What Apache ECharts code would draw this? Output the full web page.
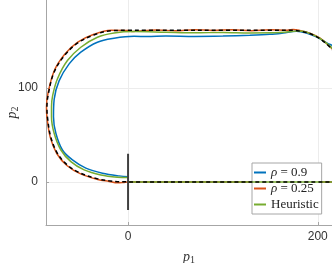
<!DOCTYPE html>
<html>
<head>
<meta charset="utf-8">
<script src="https://cdn.jsdelivr.net/npm/echarts@6/dist/echarts.min.js"></script>
<style>html,body{margin:0;padding:0;background:#fff}#c{width:332px;height:263px}</style>
</head>
<body>
<div id="c"></div>
<script>
// Tick values
var xTicks = [0, 200];
var yTicks = [0, 100];

// Reference path (black dashed)
var refPath = [[218,138],[212.6,144],[202,152.9],[191.6,158.2],[181,160.8],[175,161.6],[150,161.7],[100,161.7],[50,161.7],[20,161.7],[0,161.7],[-18,161.2],[-36,156.7],[-53,148.2],[-67,134.8],[-78,117],[-84,94],[-85.5,80],[-85,69.5],[-81.5,48],[-74.5,30.5],[-64,18],[-50,9.2],[-32,3.2],[-20,1.2],[-11,0.2],[0,0],[220,0]];

// rho = 0.9 (blue)
var rho09 = [[0,0],[220,0],['-','-'],[218,141],[214.7,145.7],[210.8,147.5],[198.6,154.6],[188,158.8],[177.5,160.6],[163.5,158.8],[149.5,157.4],[128.4,156.4],[100,155.6],[70,155.2],[40,155.6],[20,155],[6.3,155.3],[-14.7,153.2],[-32.3,149],[-49.8,138.3],[-62.1,125.9],[-72.6,108],[-77.9,88],[-78.6,69.5],[-76.1,51.8],[-69.2,34],[-58.6,23.4],[-44.5,14.6],[-27,9.2],[-9.5,6.4],[1,5.6]];

// rho = 0.25 (orange)
var rho025 = [[218,139],[212.6,144.5],[202,153.5],[191.6,158.6],[181,161.5],[174,162.6],[168,161.8],[150,162.2],[130,161.3],[110,162.3],[90,161.5],[70,162.4],[50,161.2],[30,162],[10,160.8],[5,160.3],[0,161.5],[-18,161.8],[-36,157.5],[-53,149],[-67,135.8],[-78,118],[-84.5,94],[-86,80],[-85.5,69],[-82,47.5],[-75,30],[-64.5,17.5],[-50,8.5],[-32,2.6],[-20,0.5],[-11,-1],[-5,-0.6],[0,0],[220,0]];

// Heuristic (green)
var heuristic = [[0,0],[220,0],['-','-'],[218,139.5],[212.6,145],[202,153.2],[191.6,158.4],[181,160.9],[177.5,160.8],[160,159.3],[128,158.9],[100,159.4],[70,159],[40,159.6],[6.3,160.3],[-14.7,158.8],[-32.3,154.3],[-49.8,143.6],[-63.9,129.4],[-74.4,110],[-79.5,92],[-80.7,80],[-80.7,69.5],[-77.9,51.8],[-70.8,34],[-60.3,21.6],[-46.3,12.8],[-28.7,7.4],[-11.3,5],[1,4.6]];

// Start marker (vertical bar at origin)
var startBar = [[0,-30],[0,30]];

var legendNames = ['ρ = 0.9', 'ρ = 0.25', 'Heuristic'];

var chart = echarts.init(document.getElementById('c'), null, {renderer:'canvas'});
var axisCol = '#a6a6a6';
var sm = 0.35;
chart.setOption({
  animation: false,
  grid: {left: 46, right: 0, top: 0, bottom: 38, containLabel: false, outerBoundsMode: 'none'},
  xAxis: {
    type: 'value', min: -86.5, max: 215,
    name: '{i|p}{s|1}', nameLocation: 'middle', nameGap: 24, nameMoveOverlap: false,
    nameTextStyle: {rich: {
      i: {fontFamily: 'Liberation Serif', fontStyle: 'italic', fontSize: 14, color: '#333'},
      s: {fontFamily: 'Liberation Serif', fontSize: 10, color: '#333', verticalAlign: 'bottom', padding: [6,0,0,0]}
    }},
    axisLine: {show: true, onZero: false, lineStyle: {color: axisCol, width: 1}},
    axisTick: {show: true, inside: true, length: 3, customValues: xTicks, lineStyle: {color: axisCol}},
    axisLabel: {customValues: xTicks, color: '#333', fontSize: 12, fontFamily: 'Liberation Sans', margin: 6},
    splitLine: {show: true, lineStyle: {color: '#ececec', width: 1}}
  },
  yAxis: {
    type: 'value', min: -46, max: 194,
    name: '{i|p}{s|2}', nameLocation: 'middle', nameGap: 26, nameMoveOverlap: false,
    nameTextStyle: {rich: {
      i: {fontFamily: 'Liberation Serif', fontStyle: 'italic', fontSize: 14, color: '#333'},
      s: {fontFamily: 'Liberation Serif', fontSize: 10, color: '#333', padding: [6,0,0,0]}
    }},
    axisLine: {show: true, onZero: false, lineStyle: {color: axisCol, width: 1}},
    axisTick: {show: true, inside: true, length: 3, customValues: yTicks, lineStyle: {color: axisCol}},
    axisLabel: {customValues: yTicks, color: '#333', fontSize: 12, fontFamily: 'Liberation Sans', margin: 8},
    splitLine: {show: true, lineStyle: {color: '#ececec', width: 1}}
  },
  legend: {
    data: legendNames.map(function(n){return {name: n, icon: 'rect'};}),
    orient: 'vertical', left: 252, top: 163,
    itemWidth: 12, itemHeight: 2, itemGap: 3,
    padding: [3, 3, 3, 2],
    backgroundColor: '#fff', borderColor: '#a6a6a6', borderWidth: 1, borderRadius: 0,
    textStyle: {fontFamily: 'Liberation Serif', fontSize: 13, color: '#222', lineHeight: 13,
      rich: {i: {fontFamily: 'Liberation Serif', fontStyle: 'italic', fontSize: 13, color: '#222', lineHeight: 13}}},
    formatter: function(n){
      if (n.charAt(0) === 'ρ') return '{i|ρ} ' + n.substring(2);
      return n;
    }
  },
  series: [
    {name: legendNames[0], type: 'line', data: rho09, showSymbol: false, symbol: 'none', connectNulls: false, smooth: sm,
     color: '#0072BD', lineStyle: {width: 1.5, color: '#0072BD'}, z: 2},
    {name: legendNames[1], type: 'line', data: rho025, showSymbol: false, symbol: 'none', smooth: sm,
     color: '#D95319', lineStyle: {width: 1.5, color: '#D95319'}, z: 3},
    {name: legendNames[2], type: 'line', data: heuristic, showSymbol: false, symbol: 'none', connectNulls: false, smooth: sm,
     color: '#77AC30', lineStyle: {width: 1.5, color: '#77AC30'}, z: 4},
    {name: 'reference', type: 'line', data: refPath, showSymbol: false, symbol: 'none', smooth: sm,
     color: '#000', lineStyle: {width: 1.5, color: '#000', type: [4, 3]}, z: 5},
    {name: 'start', type: 'line', data: startBar, showSymbol: false, symbol: 'none',
     color: '#404040', lineStyle: {width: 2, color: '#404040'}, z: 6}
  ]
});
</script>
</body>
</html>
